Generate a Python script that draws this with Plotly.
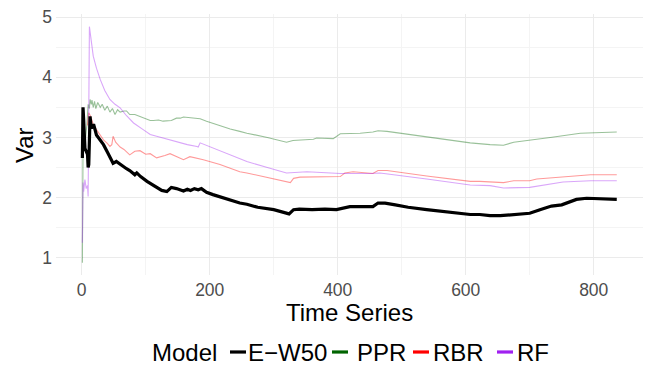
import plotly.graph_objects as go

# ---------------- data ----------------
ew50_x = [1, 2, 3, 5, 7, 9, 10, 11, 13, 15, 17, 19, 23, 29, 34, 40, 44, 49, 54, 60, 70, 75, 83, 86, 92,
          102, 110, 117, 125, 133, 140, 148, 155, 159, 165, 170, 176, 182, 187, 195, 205, 227, 247, 258,
          275, 300, 320, 324, 331, 340, 360, 380, 398, 410, 419, 435, 455, 463, 474, 490, 510, 539, 570,
          607, 622, 638, 654, 680, 700, 716, 734, 750, 762, 773, 789, 810, 836]
ew50_y = [2.66, 3.50, 3.30, 2.82, 2.77, 2.72, 2.50, 2.55, 3.35, 3.15, 3.20, 3.20, 3.04, 2.96, 2.88, 2.76,
          2.68, 2.57, 2.60, 2.55, 2.48, 2.45, 2.38, 2.41, 2.35, 2.27, 2.22, 2.17, 2.12, 2.10, 2.17, 2.15,
          2.12, 2.11, 2.14, 2.12, 2.15, 2.13, 2.15, 2.09, 2.05, 1.97, 1.91, 1.89, 1.84, 1.80, 1.74, 1.73,
          1.80, 1.81, 1.80, 1.81, 1.80, 1.83, 1.85, 1.85, 1.85, 1.91, 1.91, 1.88, 1.84, 1.80, 1.76, 1.72,
          1.72, 1.70, 1.70, 1.72, 1.74, 1.80, 1.86, 1.88, 1.92, 1.97, 1.99, 1.98, 1.97]

ppr_x = [1, 1.5, 2, 4, 6, 8, 10, 12, 13, 15, 16, 18, 20, 22, 25, 29, 32, 36, 40, 44, 48, 52, 56, 60, 66,
         70, 75, 83, 91, 100, 107, 112, 120, 127, 133, 140, 148, 154, 159, 169, 180, 185, 195, 206, 216,
         232, 247, 258, 290, 320, 330, 341, 362, 367, 393, 404, 435, 455, 463, 477, 539, 607, 638, 659,
         675, 700, 732, 779, 836]
ppr_y = [0.92, 2.00, 2.75, 2.90, 3.00, 3.20, 3.55, 3.48, 3.63, 3.55, 3.62, 3.50, 3.60, 3.48, 3.58, 3.50,
         3.55, 3.45, 3.52, 3.42, 3.48, 3.38, 3.46, 3.42, 3.44, 3.44, 3.38, 3.38, 3.35, 3.31, 3.28, 3.28,
         3.29, 3.27, 3.28, 3.28, 3.32, 3.32, 3.34, 3.33, 3.32, 3.31, 3.27, 3.23, 3.19, 3.14, 3.10, 3.07,
         3.00, 2.92, 2.95, 2.96, 2.97, 2.99, 2.98, 3.06, 3.07, 3.09, 3.11, 3.10, 3.01, 2.91, 2.88, 2.87,
         2.92, 2.95, 3.00, 3.07, 3.09]

rbr_x = [9, 11, 14, 18, 23, 28, 34, 40, 44, 47, 49, 53, 60, 66, 75, 83, 91, 100, 107, 117, 122, 130, 138,
         148, 159, 169, 180, 190, 216, 247, 258, 290, 326, 331, 341, 404, 411, 424, 450, 455, 463, 477,
         539, 607, 622, 659, 675, 700, 711, 752, 795, 836]
rbr_y = [3.20, 3.41, 3.35, 3.22, 3.13, 3.05, 2.96, 2.90, 2.85, 2.88, 3.02, 2.92, 2.84, 2.80, 2.71, 2.77,
         2.78, 2.72, 2.73, 2.66, 2.68, 2.70, 2.73, 2.68, 2.63, 2.68, 2.66, 2.63, 2.55, 2.43, 2.41, 2.33,
         2.25, 2.32, 2.34, 2.35, 2.41, 2.43, 2.41, 2.40, 2.45, 2.45, 2.36, 2.27, 2.27, 2.25, 2.28, 2.28,
         2.31, 2.34, 2.38, 2.38]

rf_x = [1, 2, 3, 5, 7, 9, 10, 12, 15, 18, 23, 29, 36, 44, 52, 60, 70, 81, 96, 107, 117, 133, 150, 165,
        180, 182, 185, 206, 216, 258, 290, 320, 352, 404, 450, 466, 539, 607, 638, 659, 700, 732, 752,
        795, 836]
rf_y = [1.25, 2.25, 2.10, 2.30, 2.15, 2.20, 2.02, 4.84, 4.55, 4.35, 4.15, 3.96, 3.78, 3.63, 3.55, 3.49,
        3.36, 3.24, 3.13, 3.05, 3.02, 2.97, 2.92, 2.88, 2.85, 2.84, 2.91, 2.82, 2.77, 2.60, 2.50, 2.41,
        2.43, 2.40, 2.40, 2.41, 2.31, 2.21, 2.20, 2.16, 2.17, 2.23, 2.26, 2.28, 2.28]

model_names = ["E\u2212W50", "PPR", "RBR", "RF"]
x_ticks = [0, 200, 400, 600, 800]
y_ticks = [1, 2, 3, 4, 5]

# ---------------- style ----------------
line_colors = ["#000000", "rgba(0,100,0,0.4)", "rgba(255,0,0,0.4)", "rgba(160,32,240,0.4)"]
key_colors = ["#000000", "#006400", "#FF0000", "#A020F0"]
line_widths = [3.2, 1.1, 1.1, 1.1]
FONT = "Liberation Sans, Arial, sans-serif"
BIG = 24

fig = go.Figure()
series = [(ew50_x, ew50_y), (ppr_x, ppr_y), (rbr_x, rbr_y), (rf_x, rf_y)]
order = [1, 2, 3, 0]  # draw black on top
for i in order:
    xs, ys = series[i]
    fig.add_trace(go.Scatter(x=xs, y=ys, mode="lines", name=model_names[i],
                             line=dict(color=line_colors[i], width=line_widths[i]),
                             showlegend=False, hoverinfo="skip"))

W, H = 651, 365
L, R, T, B = 56, 8, 14, 90
pw, ph = W - L - R, H - T - B

def px_to_paper_x(px):
    return (px - L) / pw

def py_to_paper_y(py):
    return (H - B - py) / ph

annotations = []
shapes = []
legend_y = 352
annotations.append(dict(text="Model", x=px_to_paper_x(150), y=py_to_paper_y(legend_y),
                        xref="paper", yref="paper", xanchor="left", yanchor="middle",
                        showarrow=False, font=dict(family=FONT, size=BIG, color="#000000")))
key_starts = [230, 332, 413, 497]
text_starts = [246, 355, 431, 515]
for name, col, ks, ts in zip(model_names, key_colors, key_starts, text_starts):
    shapes.append(dict(type="line", xref="paper", yref="paper",
                       x0=px_to_paper_x(ks), x1=px_to_paper_x(ks + 16),
                       y0=py_to_paper_y(legend_y), y1=py_to_paper_y(legend_y),
                       line=dict(color=col, width=3.2)))
    annotations.append(dict(text=name, x=px_to_paper_x(ts), y=py_to_paper_y(legend_y),
                            xref="paper", yref="paper", xanchor="left", yanchor="middle",
                            showarrow=False, font=dict(family=FONT, size=BIG, color="#000000")))

annotations.append(dict(text="Time Series", x=0.5, y=py_to_paper_y(312), xref="paper", yref="paper",
                        xanchor="center", yanchor="middle", showarrow=False,
                        font=dict(family=FONT, size=BIG, color="#000000")))
annotations.append(dict(text="Var", x=px_to_paper_x(24), y=py_to_paper_y(145), xref="paper", yref="paper",
                        xanchor="center", yanchor="middle", showarrow=False, textangle=-90,
                        font=dict(family=FONT, size=BIG, color="#000000")))

fig.update_layout(
    width=W, height=H,
    margin=dict(l=L, r=R, t=T, b=B, pad=0),
    paper_bgcolor="white", plot_bgcolor="white",
    font=dict(family=FONT, color="#4d4d4d"),
    showlegend=False,
    annotations=annotations,
    shapes=shapes,
    xaxis=dict(range=[-40.2, 877], tickvals=x_ticks, ticktext=[str(v) for v in x_ticks],
               showgrid=True, gridcolor="#ebebeb", gridwidth=1.2, zeroline=False, showline=False,
               ticks="", tickfont=dict(family=FONT, size=17.5, color="#4d4d4d"),
               minor=dict(dtick=100, tick0=100, showgrid=True, gridcolor="#f4f4f4", gridwidth=1),
               ticklabelstandoff=2),
    yaxis=dict(range=[0.715, 5.05], tickvals=y_ticks, ticktext=[str(v) for v in y_ticks],
               showgrid=True, gridcolor="#ebebeb", gridwidth=1.2, zeroline=False, showline=False,
               ticks="", tickfont=dict(family=FONT, size=17.5, color="#4d4d4d"),
               minor=dict(dtick=1, tick0=1.5, showgrid=True, gridcolor="#f4f4f4", gridwidth=1),
               ticklabelstandoff=3),
)

fig.write_html("out.html")
